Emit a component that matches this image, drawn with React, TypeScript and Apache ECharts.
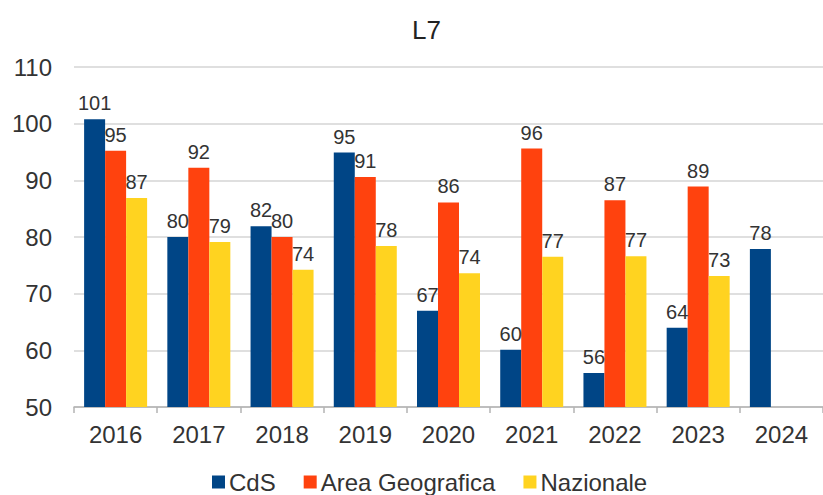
import React, { useEffect, useRef } from "react";
import * as echarts from "echarts";

const categories = ["2016", "2017", "2018", "2019", "2020", "2021", "2022", "2023", "2024"];
const cdsValues: (number | null)[] = [100.8, 80.0, 81.9, 94.9, 67.0, 60.1, 56.0, 64.0, 77.9];
const areaValues: (number | null)[] = [95.2, 92.2, 80.0, 90.6, 86.1, 95.6, 86.5, 88.9, null];
const nazValues: (number | null)[] = [86.9, 79.1, 74.2, 78.4, 73.6, 76.5, 76.6, 73.1, null];
const seriesNames = ["CdS", "Area Geografica", "Nazionale"];
const colors = ["#004586", "#ff420e", "#ffd320"];

const FONT = "'Liberation Sans', Arial, sans-serif";

export default function App() {
  const ref = useRef<HTMLDivElement>(null);
  useEffect(() => {
    if (!ref.current) return;
    const chart = echarts.init(ref.current, undefined, { renderer: "svg" });
    const mk = (name: string, data: (number | null)[], color: string) => ({
      name,
      type: "bar",
      data,
      barWidth: 21,
      barGap: "0%",
      itemStyle: { color },
      label: {
        show: true,
        position: "top",
        distance: 6,
        fontSize: 20,
        fontFamily: FONT,
        color: "#333333",
        formatter: (p: any) => (p.value == null ? "" : String(Math.round(p.value))),
      },
    });
    chart.setOption({
      animation: false,
      backgroundColor: "#ffffff",
      textStyle: { fontFamily: FONT },
      title: {
        text: "L7",
        left: 407,
        top: 12,
        textStyle: { fontSize: 26, fontWeight: "normal", color: "#222222", fontFamily: FONT },
      },
      legend: {
        data: seriesNames,
        left: 207,
        top: 465,
        itemWidth: 13,
        itemHeight: 13,
        itemGap: 28,
        icon: "rect",
        textStyle: { fontSize: 24, color: "#333333", fontFamily: FONT, padding: [0, 0, 0, -1] },
      },
      grid: { left: 74, top: 67, bottom: 88, width: 758, containLabel: false },
      xAxis: {
        type: "category",
        data: categories,
        axisLine: { lineStyle: { color: "#b3b3b3", width: 1.5 } },
        axisTick: { show: true, length: 6, lineStyle: { color: "#b3b3b3", width: 1.5 } },
        axisLabel: { fontSize: 24, color: "#333333", fontFamily: FONT, margin: 15 },
      },
      yAxis: {
        type: "value",
        min: 50,
        max: 110,
        interval: 10,
        axisLine: { show: false },
        axisTick: { show: false },
        axisLabel: { fontSize: 24, color: "#333333", fontFamily: FONT, margin: 22 },
        splitLine: { lineStyle: { color: "#d4d4d4", width: 1.5 } },
      },
      series: [
        mk(seriesNames[0], cdsValues, colors[0]),
        mk(seriesNames[1], areaValues, colors[1]),
        mk(seriesNames[2], nazValues, colors[2]),
      ],
    });
    return () => chart.dispose();
  }, []);
  return (
    <div
      ref={ref}
      style={{ position: "fixed", left: 0, top: 0, width: 823, height: 495, background: "#fff" }}
    />
  );
}
